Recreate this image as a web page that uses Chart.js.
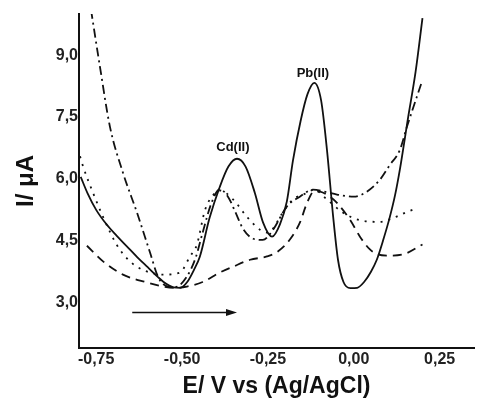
<!DOCTYPE html>
<html>
<head>
<meta charset="utf-8">
<script src="https://cdn.jsdelivr.net/npm/chart.js@4/dist/chart.umd.min.js"></script>
<style>
    html, body { margin: 0; padding: 0; background: #fff; }
    #wrap { width: 488px; height: 401px; }
</style>
</head>
<body>
<div id="wrap"><canvas id="voltChart"></canvas></div>
<script>
// potentials (V vs Ag/AgCl) and currents (uA)
const solidE = [-0.795, -0.775, -0.75, -0.72, -0.69, -0.66, -0.63, -0.60, -0.57, -0.545, -0.525, -0.505, -0.485, -0.465, -0.448, -0.42, -0.39, -0.365, -0.34, -0.315, -0.288, -0.264, -0.238, -0.215, -0.195, -0.177, -0.155, -0.135, -0.115, -0.095, -0.078, -0.06, -0.046, -0.03, -0.01, 0.01, 0.03, 0.05, 0.067, 0.085, 0.105, 0.12, 0.134, 0.158, 0.18, 0.2];
const solidI = [6.05, 5.65, 5.25, 4.9, 4.62, 4.36, 4.1, 3.86, 3.62, 3.45, 3.37, 3.36, 3.5, 3.8, 4.12, 5.05, 5.81, 6.3, 6.49, 6.3, 5.66, 4.94, 4.6, 4.9, 5.45, 6.45, 7.4, 8.05, 8.33, 7.9, 6.7, 5.08, 4.04, 3.5, 3.35, 3.36, 3.5, 3.75, 4.04, 4.5, 5.08, 5.6, 6.22, 7.48, 8.6, 9.9];

const dashE = [-0.777, -0.73, -0.672, -0.602, -0.555, -0.52, -0.486, -0.44, -0.39, -0.352, -0.302, -0.253, -0.221, -0.186, -0.157, -0.136, -0.115, -0.098, -0.075, -0.049, -0.011, 0.018, 0.047, 0.07, 0.097, 0.143, 0.2];
const dashI = [4.38, 4.0, 3.68, 3.49, 3.39, 3.36, 3.39, 3.5, 3.73, 3.87, 4.04, 4.12, 4.24, 4.53, 4.94, 5.42, 5.7, 5.69, 5.6, 5.42, 5.01, 4.6, 4.29, 4.17, 4.14, 4.17, 4.41];

const dotE = [-0.797, -0.788, -0.759, -0.73, -0.69, -0.66, -0.631, -0.593, -0.555, -0.506, -0.477, -0.457, -0.433, -0.41, -0.39, -0.351, -0.311, -0.273, -0.25, -0.23, -0.215, -0.177, -0.136, -0.116, -0.078, -0.031, 0.018, 0.076, 0.114, 0.155, 0.187];
const dotI = [6.55, 6.3, 5.66, 5.08, 4.4, 4.07, 3.87, 3.73, 3.68, 3.73, 4.12, 4.4, 5.25, 5.6, 5.72, 5.5, 5.08, 4.77, 4.7, 4.85, 5.08, 5.5, 5.66, 5.74, 5.5, 5.18, 5.0, 4.96, 5.05, 5.2, 5.3];

const dashDotE = [-0.765, -0.739, -0.71, -0.672, -0.631, -0.593, -0.57, -0.545, -0.52, -0.486, -0.46, -0.44, -0.415, -0.39, -0.365, -0.345, -0.323, -0.293, -0.265, -0.235, -0.195, -0.157, -0.119, -0.08, -0.049, 0.0, 0.038, 0.076, 0.105, 0.134, 0.155, 0.198];
const dashDotI = [10.1, 8.72, 7.27, 6.15, 5.18, 4.21, 3.63, 3.4, 3.38, 3.63, 4.1, 4.7, 5.4, 5.75, 5.55, 5.2, 4.8, 4.55, 4.52, 4.77, 5.33, 5.57, 5.74, 5.68, 5.62, 5.57, 5.69, 5.98, 6.34, 6.7, 7.27, 8.35];

const xTicks = [-0.75, -0.5, -0.25, 0, 0.25];
const yTicks = [3.0, 4.5, 6.0, 7.5, 9.0];

const peakLabels = ["Cd(II)", "Pb(II)"];

const FONT = "'Liberation Sans', Arial, sans-serif";

function toPoints(xs, ys) {
    return xs.map((x, i) => ({ x: x, y: ys[i] }));
}

// peak labels and scan-direction arrow, placed in data units
const notes = {
    id: "notes",
    afterDatasetsDraw(chart) {
        const ctx = chart.ctx;
        const xs = chart.scales.x;
        const ys = chart.scales.y;
        const spots = [[-0.352, 6.76], [-0.119, 8.57]];

        ctx.save();
        ctx.fillStyle = "#111";
        ctx.font = "bold 13px " + FONT;
        ctx.textAlign = "center";
        ctx.textBaseline = "middle";
        peakLabels.forEach((t, i) => {
            ctx.fillText(t, xs.getPixelForValue(spots[i][0]), ys.getPixelForValue(spots[i][1]));
        });

        const x0 = xs.getPixelForValue(-0.645);
        const x1 = xs.getPixelForValue(-0.34);
        const y = ys.getPixelForValue(2.76);
        ctx.strokeStyle = "#111";
        ctx.lineWidth = 1.6;
        ctx.beginPath();
        ctx.moveTo(x0, y);
        ctx.lineTo(x1 - 8, y);
        ctx.stroke();
        ctx.beginPath();
        ctx.moveTo(x1, y);
        ctx.lineTo(x1 - 11, y - 3.5);
        ctx.lineTo(x1 - 11, y + 3.5);
        ctx.closePath();
        ctx.fill();
        ctx.restore();
    }
};

const ctx = document.getElementById("voltChart");

const lineBase = {
    borderColor: "#111",
    borderWidth: 1.8,
    pointRadius: 0,
    fill: false,
    cubicInterpolationMode: "monotone"
};

new Chart(ctx, {
    type: "line",
    data: {
        datasets: [
            Object.assign({ label: "solid", data: toPoints(solidE, solidI) }, lineBase),
            Object.assign({ label: "dash", data: toPoints(dashE, dashI), borderDash: [9, 6] }, lineBase),
            Object.assign({ label: "dot", data: toPoints(dotE, dotI), borderDash: [2, 6] }, lineBase),
            Object.assign({ label: "dashdot", data: toPoints(dashDotE, dashDotI), borderDash: [9, 4, 2, 4] }, lineBase)
        ]
    },
    options: {
        responsive: true,
        maintainAspectRatio: false,
        animation: false,
        layout: { padding: { left: 0, right: 14, top: 14, bottom: 0 } },
        plugins: {
            legend: { display: false },
            tooltip: { enabled: false }
        },
        scales: {
            x: {
                type: "linear",
                min: -0.8,
                max: 0.35,
                grid: { display: false, drawTicks: false },
                border: { display: true, color: "#111", width: 2 },
                afterBuildTicks: (s) => { s.ticks = xTicks.map(v => ({ value: v })); },
                afterFit: (s) => { s.height = 53; },
                ticks: {
                    padding: 2,
                    color: "#222",
                    font: { family: FONT, size: 16, weight: "bold" },
                    callback: (v) => Number(v).toFixed(2).replace(".", ",")
                },
                title: {
                    display: true,
                    text: "E/ V vs (Ag/AgCl)",
                    color: "#111",
                    font: { family: FONT, size: 23, weight: "bold" },
                    padding: { top: 0, bottom: 1 }
                }
            },
            y: {
                type: "linear",
                min: 1.9,
                max: 10,
                grid: { display: false, drawTicks: false },
                border: { display: true, color: "#111", width: 2 },
                afterBuildTicks: (s) => { s.ticks = yTicks.map(v => ({ value: v })); },
                afterFit: (s) => { s.width = 79; },
                ticks: {
                    padding: 1,
                    color: "#222",
                    font: { family: FONT, size: 16, weight: "bold" },
                    callback: (v) => Number(v).toFixed(1).replace(".", ",")
                },
                title: {
                    display: true,
                    text: "I/ μA",
                    color: "#111",
                    font: { family: FONT, size: 24, weight: "bold" },
                    padding: { top: 12, bottom: 0 }
                }
            }
        }
    },
    plugins: [notes]
});
</script>
</body>
</html>
